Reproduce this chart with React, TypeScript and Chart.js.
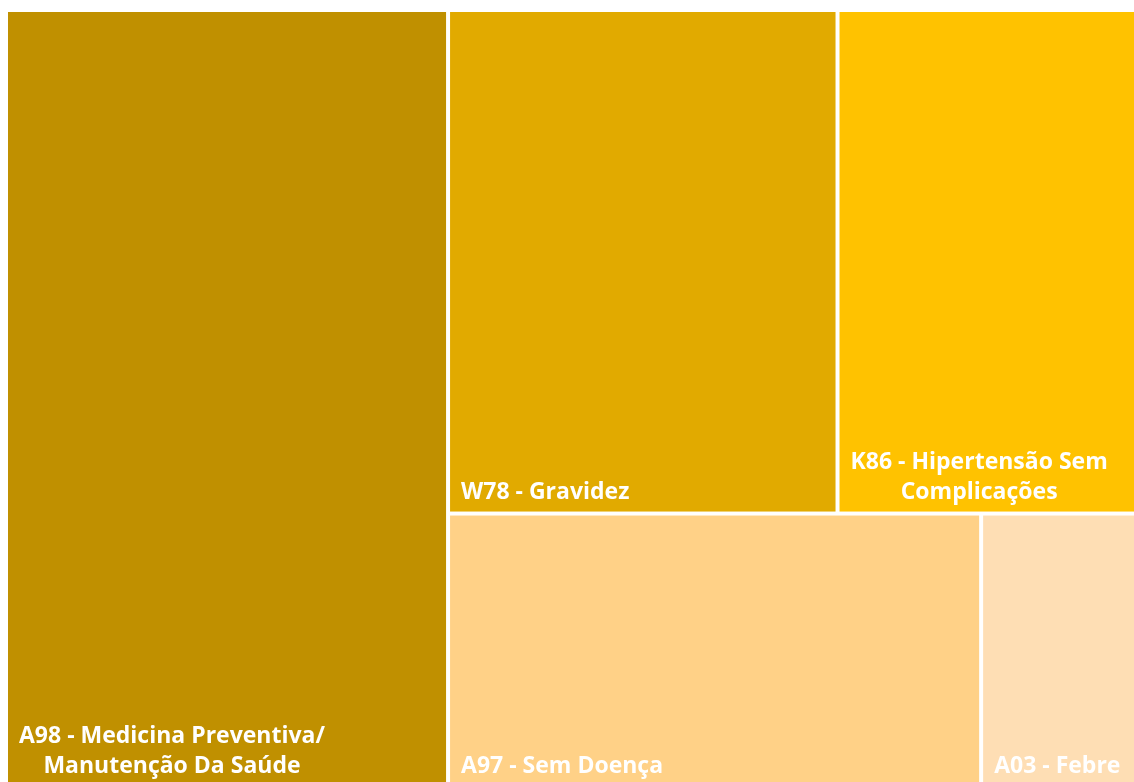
import React, { useEffect, useRef } from "react";
import { Chart, registerables } from "chart.js";

Chart.register(...registerables);

const categories: string[] = [
  "A98 - Medicina Preventiva/ Manutenção Da Saúde",
  "W78 - Gravidez",
  "K86 - Hipertensão Sem Complicações",
  "A97 - Sem Doença",
  "A03 - Febre",
];
const labelLines: string[][] = [
  ["A98 - Medicina Preventiva/", "Manutenção Da Saúde"],
  ["W78 - Gravidez"],
  ["K86 - Hipertensão Sem", "Complicações"],
  ["A97 - Sem Doença"],
  ["A03 - Febre"],
];
const values: number[] = [3439, 1961, 1523, 1463, 436];
const colors: string[] = ["#C09000", "#E1AA00", "#FFC200", "#FFD187", "#FEDEB4"];

type Rect = { x: number; y: number; w: number; h: number; i: number };

function worst(row: number[], side: number): number {
  const s = row.reduce((a, b) => a + b, 0);
  let mx = 0;
  for (const r of row) {
    const len = s / side;
    const o = r / len;
    const ratio = Math.max(len / o, o / len);
    if (ratio > mx) mx = ratio;
  }
  return mx;
}

function squarify(vals: number[], W: number, H: number): Rect[] {
  const total = vals.reduce((a, b) => a + b, 0);
  const areas = vals.map((v) => (v / total) * W * H);
  const idx = areas.map((_, i) => i).sort((a, b) => areas[b] - areas[a]);
  const out: Rect[] = [];
  let x = 0, y = 0, w = W, h = H;
  let k = 0;
  while (k < idx.length) {
    const side = Math.min(w, h);
    const row: number[] = [areas[idx[k]]];
    const rowIdx: number[] = [idx[k]];
    k++;
    while (k < idx.length) {
      const cand = [...row, areas[idx[k]]];
      if (worst(cand, side) <= worst(row, side)) {
        row.push(areas[idx[k]]);
        rowIdx.push(idx[k]);
        k++;
      } else break;
    }
    const s = row.reduce((a, b) => a + b, 0);
    if (w >= h) {
      const cw = s / h;
      let cy = y;
      row.forEach((a, j) => {
        const ch = a / cw;
        out.push({ x, y: cy, w: cw, h: ch, i: rowIdx[j] });
        cy += ch;
      });
      x += cw;
      w -= cw;
    } else {
      const rh = s / w;
      let cx = x;
      row.forEach((a, j) => {
        const cw = a / rh;
        out.push({ x: cx, y, w: cw, h: rh, i: rowIdx[j] });
        cx += cw;
      });
      y += rh;
      h -= rh;
    }
  }
  return out;
}

const FONT = "bold 23px 'Open Sans', 'Noto Sans', sans-serif";

const treemapPlugin = {
  id: "treemapDraw",
  beforeDatasetsDraw(chart: any) {
    const { ctx, chartArea, scales } = chart;
    const aw = chartArea.right - chartArea.left;
    const ah = chartArea.bottom - chartArea.top;
    const rects = squarify(values, aw, ah);
    const gap = 2;
    ctx.save();
    rects.forEach((r) => {
      const x0 = scales.x.getPixelForValue(r.x / aw);
      const x1 = scales.x.getPixelForValue((r.x + r.w) / aw);
      const y0 = scales.y.getPixelForValue(r.y / ah);
      const y1 = scales.y.getPixelForValue((r.y + r.h) / ah);
      ctx.fillStyle = colors[r.i];
      ctx.fillRect(x0 + gap, y0 + gap, x1 - x0 - 2 * gap, y1 - y0 - 2 * gap);
    });
    ctx.font = FONT;
    ctx.fillStyle = "#FFFFFF";
    ctx.textBaseline = "alphabetic";
    ctx.textAlign = "center";
    rects.forEach((r) => {
      const x0 = scales.x.getPixelForValue(r.x / aw) + gap;
      const y1 = scales.y.getPixelForValue((r.y + r.h) / ah) - gap;
      const lines = labelLines[r.i];
      const widths = lines.map((l) => ctx.measureText(l).width);
      const bw = Math.max(...widths);
      const cx = x0 + 11 + bw / 2;
      const lh = 30;
      lines.forEach((l, j) => {
        const by = y1 - 13 - (lines.length - 1 - j) * lh;
        ctx.fillText(l, cx, by);
      });
    });
    ctx.restore();
  },
};

export default function App() {
  const ref = useRef<HTMLCanvasElement>(null);
  useEffect(() => {
    if (!ref.current) return;
    const chart = new Chart(ref.current, {
      type: "scatter",
      data: {
        labels: categories,
        datasets: [{ label: "Treemap", data: [], pointRadius: 0 }],
      },
      options: {
        responsive: false,
        animation: false,
        events: [],
        layout: { padding: { left: 6, top: 10, right: 10, bottom: 12 } },
        plugins: { legend: { display: false }, tooltip: { enabled: false } },
        scales: {
          x: { type: "linear", min: 0, max: 1, display: false },
          y: { type: "linear", min: 0, max: 1, reverse: true, display: false },
        },
      },
      plugins: [treemapPlugin],
    });
    return () => chart.destroy();
  }, []);
  return (
    <div
      style={{
        position: "fixed",
        left: 0,
        top: 0,
        width: 1134,
        height: 782,
        overflow: "hidden",
        background: "#FFFFFF",
      }}
    >
      <canvas
        ref={ref}
        width={1150}
        height={800}
        style={{ position: "absolute", left: 0, top: 0, width: 1150, height: 800 }}
      />
    </div>
  );
}
